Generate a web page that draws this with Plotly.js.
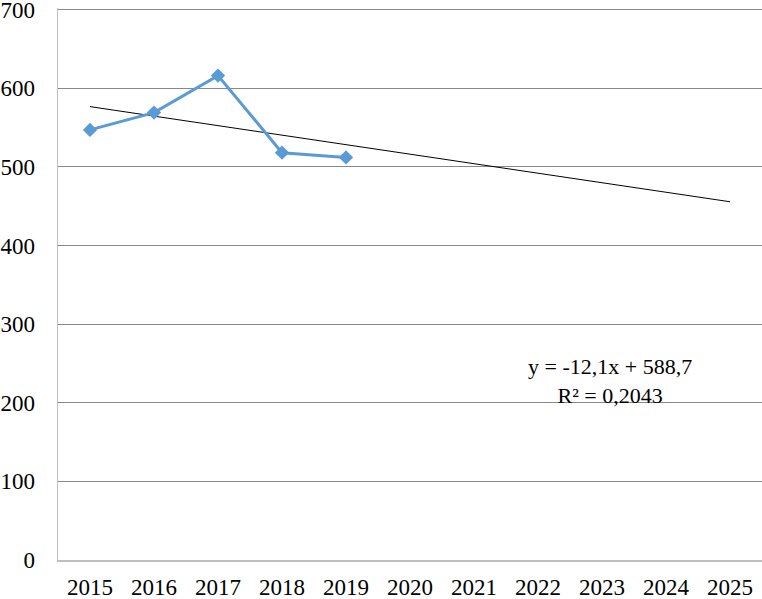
<!DOCTYPE html>
<html>
<head>
<meta charset="utf-8">
<script src="https://cdn.plot.ly/plotly-3.0.1.min.js"></script>
<style>html,body{margin:0;padding:0;background:#fff;}#chart{width:762px;height:599px;}</style>
</head>
<body>
<div id="chart"></div>
<script>
var categories = ['2015','2016','2017','2018','2019','2020','2021','2022','2023','2024','2025'];
var seriesYears = ['2015','2016','2017','2018','2019'];
var seriesValues = [547, 569, 616, 518, 512];
var trendYears = ['2015','2025'];
var trendValues = [576.6, 455.6];
var yTicks = [0,100,200,300,400,500,600,700];
var equationText = 'y = -12,1x + 588,7<br>R² = 0,2043';

var serif = 'Liberation Serif, Times New Roman, serif';

var data = [
  {
    x: trendYears, y: trendValues, type: 'scatter', mode: 'lines',
    line: {color: '#000000', width: 1}, hoverinfo: 'skip', showlegend: false
  },
  {
    x: seriesYears, y: seriesValues, type: 'scatter', mode: 'lines+markers',
    line: {color: '#5b9bd5', width: 3},
    marker: {symbol: 'diamond', size: 11, color: '#5b9bd5'},
    showlegend: false
  }
];

var layout = {
  width: 762, height: 599,
  margin: {l: 58, r: 0, t: 8, b: 39},
  paper_bgcolor: '#ffffff', plot_bgcolor: '#ffffff',
  font: {family: serif, size: 23, color: '#000000'},
  xaxis: {
    type: 'category', categoryorder: 'array', categoryarray: categories,
    range: [-0.5, 10.5], showgrid: false, zeroline: false,
    showline: true, linecolor: '#bfbfbf', linewidth: 1.5,
    ticks: '', ticklabelstandoff: 6,
    tickfont: {family: serif, size: 23, color: '#000000'}
  },
  yaxis: {
    range: [0, 702], tickvals: yTicks, ticktext: yTicks.map(String),
    showgrid: true, gridcolor: '#888888', gridwidth: 1.2,
    zeroline: false, showline: true, linecolor: '#bfbfbf', linewidth: 1.5,
    ticks: '', ticklabelstandoff: 17, ticklabeloverflow: 'allow',
    tickfont: {family: serif, size: 23, color: '#000000'}
  },
  annotations: [{
    xref: 'paper', yref: 'paper', x: 0.784, y: 0.325,
    xanchor: 'center', yanchor: 'middle', showarrow: false,
    text: equationText, align: 'center',
    font: {family: serif, size: 22, color: '#000000'}
  }]
};

Plotly.newPlot('chart', data, layout, {displayModeBar: false, staticPlot: true});
</script>
</body>
</html>
